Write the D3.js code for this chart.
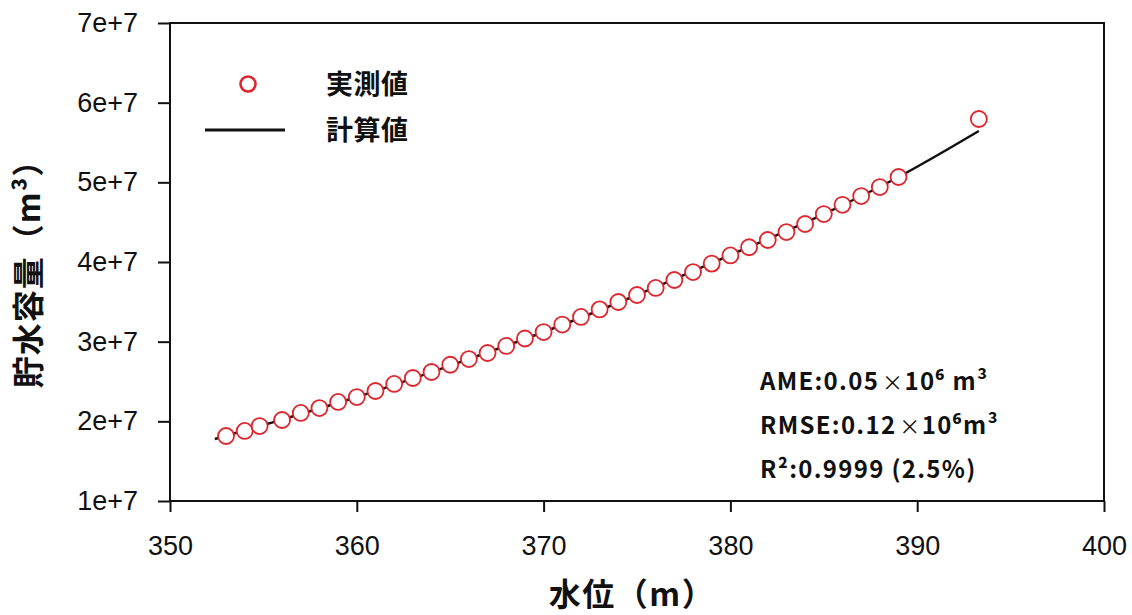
<!DOCTYPE html>
<html>
<head>
<meta charset="utf-8">
<script src="https://cdn.jsdelivr.net/npm/d3@7"></script>
<style>
  body { margin: 0; background: #fff; }
  svg { display: block; }
  .tick text { font-family: "Liberation Sans", Arial, sans-serif; }
</style>
</head>
<body>
<svg id="chartSVG" width="1132" height="615"></svg>
<script>
// measured points (water level, storage)
const obsLevel = [353, 354, 354.8, 356, 357, 358, 359, 360, 361, 362, 363, 364, 365, 366,
                  367, 368, 369, 370, 371, 372, 373, 374, 375, 376, 377, 378, 379, 380,
                  381, 382, 383, 384, 385, 386, 387, 388, 389, 393.3];
const obsVolume = [1.816e7, 1.879e7, 1.941e7, 2.017e7, 2.105e7, 2.167e7, 2.243e7, 2.305e7,
                   2.381e7, 2.469e7, 2.544e7, 2.619e7, 2.71e7, 2.782e7, 2.858e7, 2.946e7,
                   3.04e7, 3.121e7, 3.215e7, 3.31e7, 3.405e7, 3.498e7, 3.586e7, 3.674e7,
                   3.774e7, 3.874e7, 3.98e7, 4.082e7, 4.185e7, 4.276e7, 4.376e7, 4.477e7,
                   4.602e7, 4.718e7, 4.828e7, 4.941e7, 5.067e7, 5.795e7];

// calculated curve
const calcLevel = [352.4, 355, 360, 365, 370, 375, 380, 385, 389, 393.3];
const calcVolume = [1.778e7, 1.954e7, 2.305e7, 2.70e7, 3.121e7, 3.586e7, 4.088e7, 4.602e7, 5.067e7, 5.644e7];

const xTicks = [350, 360, 370, 380, 390, 400];
const yTicks = [1e7, 2e7, 3e7, 4e7, 5e7, 6e7, 7e7];

const legendLabels = ["実測値", "計算値"];
const statLines = [
    ["AME:0.05", "×", "10⁶ m³"],
    ["RMSE:0.12", "×", "10⁶m³"],
    ["R²:0.9999 (2.5%)"]
];

const margin = {left: 170, right: 28, top: 23, bottom: 114};
const width = 1132 - margin.left - margin.right;
const height = 615 - margin.top - margin.bottom;
const jpFont = '"Noto Sans CJK JP", "Noto Sans", sans-serif';

var svg = d3.select("#chartSVG");
var g = svg.append("g")
    .attr("transform", "translate(" + margin.left + "," + margin.top + ")");

var xScale = d3.scaleLinear().domain([350, 400]).range([0, width]);
var yScale = d3.scaleLinear().domain([1e7, 7e7]).range([height, 0]);

// frame
g.append("rect")
    .attr("width", width).attr("height", height)
    .attr("fill", "none").attr("stroke", "#111").attr("stroke-width", 2);

var xAxis = d3.axisBottom(xScale).tickValues(xTicks).tickSize(11).tickPadding(24);
var yAxis = d3.axisLeft(yScale).tickValues(yTicks).tickSize(12).tickPadding(20)
    .tickFormat(d => (d / 1e7) + "e+7");

var gx = g.append("g").attr("transform", "translate(0," + height + ")").call(xAxis);
var gy = g.append("g").call(yAxis);
[gx, gy].forEach(a => {
    a.select(".domain").remove();
    a.selectAll(".tick line").attr("stroke", "#111").attr("stroke-width", 2);
    a.selectAll(".tick text").attr("font-size", 27).attr("fill", "#111");
});

// calculated line
var line = d3.line()
    .x((d, i) => xScale(calcLevel[i]))
    .y(d => yScale(d))
    .curve(d3.curveMonotoneX);
g.append("path")
    .datum(calcVolume)
    .attr("d", line)
    .attr("fill", "none")
    .attr("stroke", "#111")
    .attr("stroke-width", 2.5);

// observed circles
g.selectAll("circle.obs")
    .data(obsVolume)
    .enter().append("circle")
    .attr("class", "obs")
    .attr("cx", (d, i) => xScale(obsLevel[i]))
    .attr("cy", d => yScale(d))
    .attr("r", 8)
    .attr("fill", "#fff")
    .attr("stroke", "#e0242b")
    .attr("stroke-width", 1.8);

// legend
var legend = svg.append("g");
legend.append("circle")
    .attr("cx", 248).attr("cy", 84).attr("r", 7.5)
    .attr("fill", "#fff").attr("stroke", "#e0242b").attr("stroke-width", 2.6);
legend.append("line")
    .attr("x1", 205).attr("x2", 285).attr("y1", 130).attr("y2", 130)
    .attr("stroke", "#111").attr("stroke-width", 3);
legendLabels.forEach((t, i) => {
    legend.append("text")
        .attr("x", 326).attr("y", 94 + i * 46)
        .attr("font-family", jpFont).attr("font-weight", "bold")
        .attr("font-size", 27).attr("letter-spacing", 0.5).attr("fill", "#111")
        .text(t);
});

// statistics
statLines.forEach((parts, i) => {
    var t = svg.append("text")
        .attr("x", 760).attr("y", 390 + i * 44)
        .attr("font-family", jpFont).attr("font-weight", "bold")
        .attr("font-size", 24).attr("letter-spacing", 1.3).attr("fill", "#111");
    parts.forEach(p => {
        var s = t.append("tspan").text(p);
        if (p === "×") s.attr("font-weight", "normal").attr("dx", 3).attr("font-size", 21);
    });
});

// axis titles
svg.append("text")
    .attr("x", 632).attr("y", 606)
    .attr("text-anchor", "middle")
    .attr("font-family", jpFont).attr("font-weight", "bold")
    .attr("font-size", 32).attr("letter-spacing", 1.5).attr("fill", "#111")
    .text("水位（m）");

svg.append("text")
    .attr("transform", "translate(40,266) rotate(-90)")
    .attr("text-anchor", "middle")
    .attr("font-family", jpFont).attr("font-weight", "bold")
    .attr("font-size", 32).attr("letter-spacing", 1).attr("fill", "#111")
    .text("貯水容量（m³）");
</script>
</body>
</html>
